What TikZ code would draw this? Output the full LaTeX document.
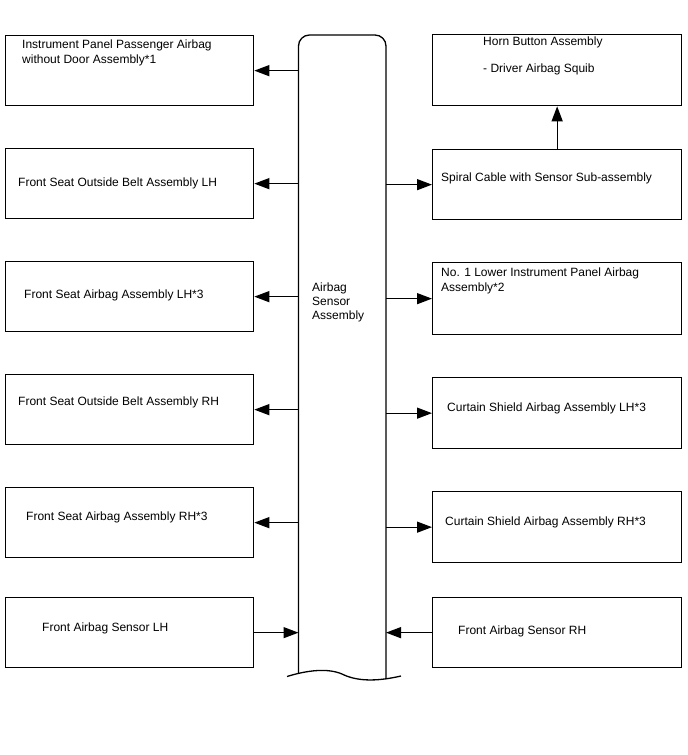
\documentclass[tikz,border=0pt]{standalone}
\usepackage{fontspec}
\setmainfont{Liberation Sans}
\usetikzlibrary{arrows.meta}
\begin{document}
\begin{tikzpicture}[x=1pt,y=-1pt,
  box/.style={draw=black,line width=1.3pt,anchor=north west,inner sep=0pt,minimum width=248pt},
  rbox/.style={box,minimum width=249pt},
  lbl/.style={anchor=west,inner sep=0pt,align=left,font=\fontsize{12}{15}\selectfont},
  arr/.style={line width=1.3pt,-{Triangle[length=15pt,width=11pt]}},
  edge/.style={line width=1.3pt}]
\useasboundingbox (0,0) rectangle (688,755);
% left boxes
\node[box,minimum height=70pt] (L1) at (5,35) {};
\node[box,minimum height=70pt] (L2) at (5,148) {};
\node[box,minimum height=70pt] (L3) at (5,261) {};
\node[box,minimum height=70pt] (L4) at (5,374) {};
\node[box,minimum height=70pt] (L5) at (5,487) {};
\node[box,minimum height=70pt] (L6) at (5,597) {};
% right boxes
\node[rbox,minimum height=71pt] (R1) at (432,34) {};
\node[rbox,minimum height=70pt] (R2) at (432,149) {};
\node[rbox,minimum height=72pt] (R3) at (432,262) {};
\node[rbox,minimum height=71pt] (R4) at (432,377) {};
\node[rbox,minimum height=71pt] (R5) at (432,491) {};
\node[rbox,minimum height=70pt] (R6) at (432,597) {};
% texts
\node[lbl] (tL1) at (22,52.5) {Instrument Panel Passenger Airbag\\without Door Assembly*1};
\node[lbl] (tL2) at (18,183) {Front Seat Outside Belt Assembly LH};
\node[lbl] (tL3) at (24,295) {Front Seat Airbag Assembly LH*3};
\node[lbl] (tL4) at (18,402) {Front Seat Outside Belt Assembly RH};
\node[lbl] (tL5) at (26,517) {Front Seat Airbag Assembly RH*3};
\node[lbl] (tL6) at (42,628) {Front Airbag Sensor LH};
\node[lbl] (tR1) at (483,55.5) {Horn Button Assembly\\[12pt]- Driver Airbag Squib};
\node[lbl] (tR2) at (441,178) {Spiral Cable with Sensor Sub-assembly};
\node[lbl] (tR3) at (441,280.5) {No. 1 Lower Instrument Panel Airbag\\Assembly*2};
\node[lbl] (tR4) at (447,408) {Curtain Shield Airbag Assembly LH*3};
\node[lbl] (tR5) at (445,522) {Curtain Shield Airbag Assembly RH*3};
\node[lbl] (tR6) at (458,631) {Front Airbag Sensor RH};
% central body
\draw[edge,rounded corners=11pt] (298.5,673) -- (298.5,35) -- (386,35) -- (386,679);
\draw[edge] (287,676.5) .. controls (308,670) and (328,668) .. (342,674)
  .. controls (356,681) and (375,682) .. (401,676);
\coordinate (cL) at (298.5,400);
\coordinate (cR) at (386,400);
\node[lbl,font=\fontsize{12}{14}\selectfont] (tC) at (312,302) {Airbag\\Sensor\\Assembly};
% connectors
\draw[arr] (cL |- L1.east) -- (L1.east);
\draw[arr] (cL |- L2.east) -- (L2.east);
\draw[arr] (cL |- L3.east) -- (L3.east);
\draw[arr] (cL |- L4.east) -- (L4.east);
\draw[arr] (cL |- L5.east) -- (L5.east);
\draw[arr] (L6.east) -- (cL |- L6.east);
\draw[arr] (cR |- R2.west) -- (R2.west);
\draw[arr] (cR |- R3.west) -- (R3.west);
\draw[arr] (cR |- R4.west) -- (R4.west);
\draw[arr] (cR |- R5.west) -- (R5.west);
\draw[arr] (R6.west) -- (cR |- R6.west);
\draw[arr] (R2.north) -- (R1.south);
\end{tikzpicture}
\end{document}
